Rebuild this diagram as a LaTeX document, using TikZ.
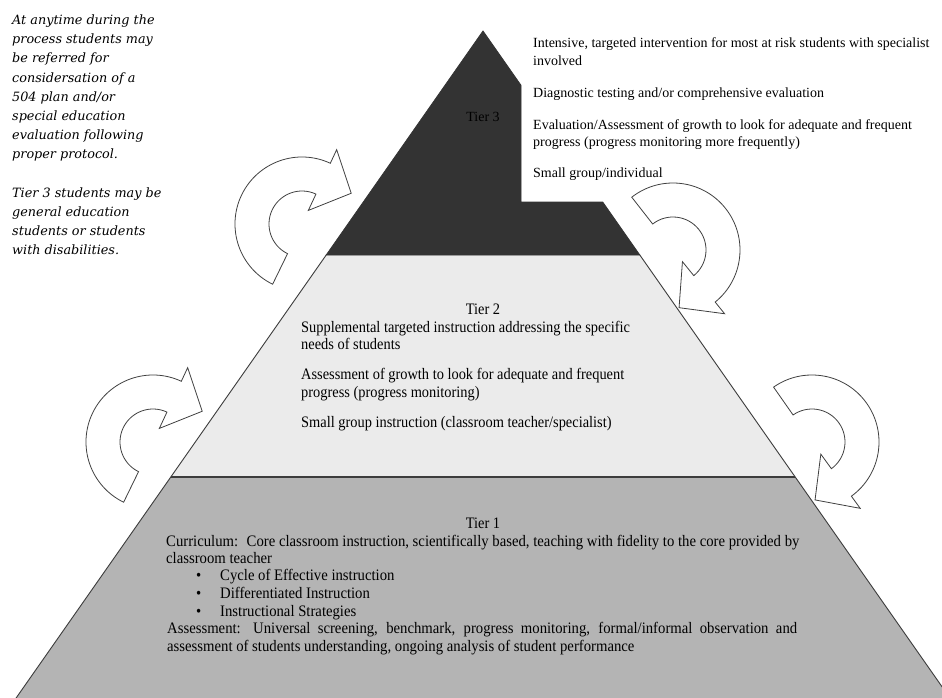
\documentclass[tikz,border=0pt]{standalone}
\usepackage{fontspec}
\setmainfont{Liberation Serif}
\newfontfamily\condfont[FakeStretch=0.9]{Liberation Serif}
\newfontfamily\tonefont[FakeStretch=0.92]{Liberation Serif}
\newfontfamily\notefont{DejaVu Serif}
\definecolor{tierthree}{HTML}{333333}
\definecolor{tiertwo}{HTML}{EBEBEB}
\definecolor{tierone}{HTML}{B4B4B4}
\definecolor{edgegray}{HTML}{3C3C3C}
\definecolor{arrowgray}{HTML}{404040}
\tikzset{
  notetxt/.style={anchor=base west, inner sep=0pt, font=\notefont\itshape\fontsize{12.8}{19}\selectfont},
  tthree/.style={anchor=base west, inner sep=0pt, font=\fontsize{14}{18}\selectfont},
  ttwo/.style={anchor=base west, inner sep=0pt, font=\condfont\fontsize{16}{18}\selectfont},
  tone/.style={anchor=base west, inner sep=0pt, font=\tonefont\fontsize{16}{18}\selectfont},
  tierlbl/.style={anchor=base, inner sep=0pt, font=\condfont\fontsize{16}{18}\selectfont},
  carrow/.style={fill=white, draw=arrowgray, line width=0.8pt, line join=miter},
  edge/.style={draw=edgegray, line width=0.9pt, line join=miter}
}
\newcommand\myCircArrow[3]{%
  \begin{scope}[shift={(#1,#2)}, rotate=#3]
    \draw[carrow] (-244:67) arc[start angle=-244, end angle=-65, radius=67]
      -- (-65:82) -- (-32:58) -- (-65:15) -- (-65:33)
      arc[start angle=-65, end angle=-244, radius=33] -- cycle;
  \end{scope}}
\begin{document}
\begin{tikzpicture}[x=1pt, y=-1pt]
\useasboundingbox (0,0) rectangle (942,698);
\fill[white] (0,0) rectangle (942,698);
\begin{scope}
  \clip (0,0) rectangle (942,698);
  % Tier 1
  \fill[tierone] (170.8,477) -- (795.2,477) -- (949.9,698) -- (16.1,698) -- cycle;
  \draw[edge] (170.8,477) -- (16.1,698);
  \draw[edge] (795.2,477) -- (949.9,698);
  % Tier 2
  \fill[tiertwo] (326.2,255) -- (639.8,255) -- (795.2,477) -- (170.8,477) -- cycle;
  \draw[edge] (326.2,255) -- (170.8,477);
  \draw[edge] (639.8,255) -- (795.2,477);
  \draw[draw=edgegray, line width=1.6pt] (170.8,477) -- (795.2,477);
  % Tier 3
  \filldraw[fill=tierthree, draw=tierthree, line width=0.8pt, line join=miter]
    (483,31) -- (521,85.3) -- (521,202) -- (602.7,202) -- (639.8,255) -- (326.2,255) -- cycle;
\end{scope}

% side note
\node[notetxt] (n1) at (12,24.5) {At anytime during the};
\node[notetxt] (n2) at (12,43.7) {process students may};
\node[notetxt] (n3) at (12,62.9) {be referred for};
\node[notetxt] (n4) at (12,82.1) {considersation of a};
\node[notetxt] (n5) at (12,101.3) {504 plan and/or};
\node[notetxt] (n6) at (12,120.5) {special education};
\node[notetxt] (n7) at (12,139.7) {evaluation following};
\node[notetxt] (n8) at (12,158.9) {proper protocol.};
\node[notetxt] (n9) at (12,197.3) {Tier 3 students may be};
\node[notetxt] (n10) at (12,216.5) {general education};
\node[notetxt] (n11) at (12,235.7) {students or students};
\node[notetxt] (n12) at (12,254.9) {with disabilities.};

% Tier 3 texts
\node[anchor=base, inner sep=0pt, font=\fontsize{14}{18}\selectfont] (tier3) at (483,121.5) {Tier 3};
\node[tthree] (t3a) at (533,47.5) {Intensive, targeted intervention for most at risk students with specialist};
\node[tthree] (t3b) at (533,65.5) {involved};
\node[tthree] (t3c) at (533,97.5) {Diagnostic testing and/or comprehensive evaluation};
\node[tthree] (t3d) at (533,129.5) {Evaluation/Assessment of growth to look for adequate and frequent};
\node[tthree] (t3e) at (533,146.5) {progress (progress monitoring more frequently)};
\node[tthree] (t3f) at (533,177.5) {Small group/individual};

% Tier 2 texts
\node[tierlbl] (tier2) at (483,314) {Tier 2};
\node[ttwo] (t2a) at (301,332) {Supplemental targeted instruction addressing the specific};
\node[ttwo] (t2b) at (301,349) {needs of students};
\node[ttwo] (t2c) at (301,379) {Assessment of growth to look for adequate and frequent};
\node[ttwo] (t2d) at (301,397) {progress (progress monitoring)};
\node[ttwo] (t2e) at (301,427) {Small group instruction (classroom teacher/specialist)};

% Tier 1 texts
\node[tierlbl] (tier1) at (483,528) {Tier 1};
\node[tone] (t1a) at (166,546.5) {Curriculum:~ Core classroom instruction, scientifically based, teaching with fidelity to the core provided by};
\node[tone] (t1b) at (166,563) {classroom teacher};
\node[tone] (b1) at (196,580) {\textbullet};
\node[tone] (t1c) at (220,580) {Cycle of Effective instruction};
\node[tone] (b2) at (196,598) {\textbullet};
\node[tone] (t1d) at (220,598) {Differentiated Instruction};
\node[tone] (b3) at (196,616) {\textbullet};
\node[tone] (t1e) at (220,616) {Instructional Strategies};
\node[tone] (t1f) at (167,633.5) {\makebox[630pt][s]{Assessment: Universal screening, benchmark, progress monitoring, formal/informal observation and}};
\node[tone] (t1g) at (167,651.5) {assessment of students understanding, ongoing analysis of student performance};

% circular arrows
\myCircArrow{302}{224}{0}
\myCircArrow{153}{442}{0}
\myCircArrow{673}{250}{-116}
\myCircArrow{812}{442}{-119}
\end{tikzpicture}
\end{document}
